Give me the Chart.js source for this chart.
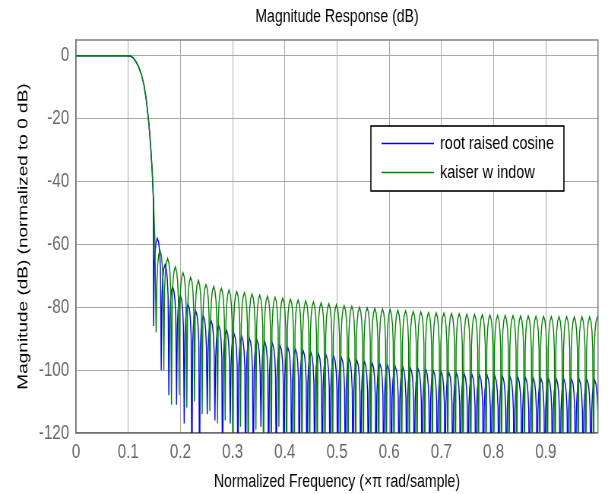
<!DOCTYPE html>
<html>
<head>
<meta charset="utf-8">
<script src="https://cdn.jsdelivr.net/npm/chart.js@4.4.1/dist/chart.umd.min.js"></script>
<style>
  html, body { margin: 0; padding: 0; background: #fff; overflow: hidden; }
  #wrap { width: 608px; height: 494px; overflow: hidden; }
  canvas { transform: scaleX(0.76); transform-origin: 0 0; }
</style>
</head>
<body>
<div id="wrap"><canvas id="c" width="800" height="494"></canvas></div>
<script>
// ---------------- data ----------------
const xTicks = [0, 0.1, 0.2, 0.3, 0.4, 0.5, 0.6, 0.7, 0.8, 0.9];
const yTicks = [-120, -100, -80, -60, -40, -20, 0];
const seriesNames = ['root raised cosine', 'kaiser w indow'];

// passband + transition band
const mainFreq   = [0, 0.05, 0.1, 0.105, 0.11, 0.115, 0.12, 0.125, 0.13, 0.135, 0.14, 0.143, 0.146, 0.148];
const rrcMain    = [0, 0, 0, -0.2, -0.8, -2.0, -3.6, -6.0, -9.2, -14.5, -22.5, -29, -37, -45];
const kaiserMain = [0, 0, 0, -0.15, -0.7, -1.9, -3.5, -5.8, -9.0, -14.2, -22.0, -28.5, -36.5, -44.5];
const kaiserTailFreq = [0.1495, 0.151];
const kaiserTail     = [-51, -58];

// stopband sidelobes: first null frequency, lobe width, peak level of each lobe, depth of each null
const lobeWidth = 0.0147;
const rrcFirstNull = 0.1485;
const kaiserFirstNull = 0.1535;

const rrcPeaks = [
  -58, -66.5, -73.5, -76.3, -79, -81.2, -82.8, -84.2, -85.8, -87.2,
  -88.5, -89.3, -89.9, -90.5, -91.1, -91.6, -92.2, -92.8, -93.3, -93.8,
  -94.3, -94.8, -95.3, -95.7, -96.1, -96.5, -96.9, -97.3, -97.7, -98.0,
  -98.4, -98.8, -99.1, -99.4, -99.7, -100.0, -100.3, -100.5, -100.8, -101.0,
  -101.2, -101.4, -101.6, -101.8, -102.0, -102.1, -102.3, -102.4, -102.5, -102.6,
  -102.7, -102.8, -102.9, -103.0, -103.0, -103.1, -103.1, -103.2
];
const rrcNulls = [
  -86, -100, -108, -111, -117, -140, -140, -114, -116, -140,
  -117, -140, -140, -140, -118, -140, -140, -140, -140, -140,
  -140, -140, -140, -140, -140, -140, -140, -140, -140, -140,
  -140, -140, -140, -140, -140, -140, -140, -140, -140, -140,
  -140, -140, -140, -140, -140, -140, -140, -140, -140, -140,
  -140, -140, -140, -140, -140, -140, -140, -140, -140
];
const kaiserPeaks = [
  -62, -64.5, -67.2, -69, -70.5, -71.5, -72.8, -73.4, -74, -74.5,
  -75, -75.4, -75.8, -76.2, -76.5, -76.8, -77.1, -77.4, -77.7, -78.0,
  -78.3, -78.6, -78.9, -79.2, -79.5, -79.7, -80.0, -80.2, -80.4, -80.6,
  -80.8, -81.0, -81.2, -81.4, -81.5, -81.7, -81.8, -81.9, -82.0, -82.1,
  -82.2, -82.3, -82.4, -82.5, -82.6, -82.6, -82.7, -82.8, -82.8, -82.9,
  -82.9, -83.0, -83.0, -83.0, -83.1, -83.1, -83.1, -83.1
];
const kaiserNulls = [
  -88, -100, -111, -108, -112, -110, -114, -113, -117, -116,
  -140, -118, -140, -119, -140, -140, -118, -140, -140, -140,
  -140, -140, -140, -140, -140, -140, -140, -140, -140, -140,
  -140, -140, -140, -140, -140, -140, -140, -140, -140, -140,
  -140, -140, -140, -140, -140, -140, -140, -140, -140, -140,
  -140, -140, -140, -140, -140, -140, -140, -140, -140
];

// ---------------- drawing ----------------
// shape of one sidelobe (fraction of lobe width, dB below the lobe peak)
const LOBE_SHAPE = [[0.1, -10], [0.2, -4.5], [0.33, -1.4], [0.5, 0], [0.67, -1.4], [0.8, -4.5], [0.9, -10]];

function buildSeries(mainX, mainY, tailX, tailY, firstNull, peaks, nulls) {
  const pts = [];
  mainX.forEach((x, i) => pts.push({ x: x, y: mainY[i] }));
  tailX.forEach((x, i) => pts.push({ x: x, y: tailY[i] }));
  peaks.forEach((p, k) => {
    const x0 = firstNull + k * lobeWidth;
    pts.push({ x: x0, y: nulls[k] });
    LOBE_SHAPE.forEach(([f, d]) => pts.push({ x: x0 + f * lobeWidth, y: p + d }));
  });
  pts.push({ x: firstNull + peaks.length * lobeWidth, y: nulls[peaks.length] });
  return pts;
}

const rrcData = buildSeries(mainFreq, rrcMain, [], [], rrcFirstNull, rrcPeaks, rrcNulls);
const kaiserData = buildSeries(mainFreq, kaiserMain, kaiserTailFreq, kaiserTail, kaiserFirstNull, kaiserPeaks, kaiserNulls);

const FONT = "'Liberation Sans', Arial, Helvetica, sans-serif";
const BLUE = '#0000ff', GREEN = '#008000';

const decor = {
  id: 'decor',
  afterDraw(chart) {
    const ctx = chart.ctx, a = chart.chartArea;
    ctx.save();
    // top and right frame
    ctx.strokeStyle = '#808080';
    ctx.lineWidth = 1.5;
    ctx.beginPath();
    ctx.moveTo(a.left, a.top); ctx.lineTo(a.right, a.top); ctx.lineTo(a.right, a.bottom);
    ctx.stroke();

    // title
    ctx.fillStyle = '#000';
    ctx.font = '18.5px ' + FONT;
    ctx.textAlign = 'center';
    ctx.textBaseline = 'alphabetic';
    ctx.fillText('Magnitude Response (dB)', (a.left + a.right) / 2, 22);
    // x axis title
    ctx.fillText('Normalized Frequency (\u00d7\u03c0 rad/sample)', (a.left + a.right) / 2, 487);
    // y axis title
    ctx.save();
    ctx.translate(36, (a.top + a.bottom) / 2);
    ctx.rotate(-Math.PI / 2);
    ctx.font = '19px ' + FONT;
    ctx.fillText('Magnitude (dB) (normalized to 0 dB)', 0, 0);
    ctx.restore();

    // legend
    const lx = 488, ly = 126, lw = 254, lh = 65;
    ctx.fillStyle = '#fff';
    ctx.fillRect(lx, ly, lw, lh);
    ctx.strokeStyle = '#000';
    ctx.lineWidth = 1.6;
    ctx.strokeRect(lx, ly, lw, lh);
    const rows = [[BLUE, 143.5], [GREEN, 172.5]];
    ctx.font = '19px ' + FONT;
    rows.forEach(([col, yy], i) => {
      ctx.strokeStyle = col;
      ctx.lineWidth = 1.3;
      ctx.beginPath(); ctx.moveTo(502, yy); ctx.lineTo(571, yy); ctx.stroke();
      ctx.fillStyle = '#000';
      ctx.textAlign = 'left';
      ctx.textBaseline = 'middle';
      ctx.fillText(seriesNames[i], 579, yy);
    });
    ctx.restore();
  }
};

new Chart(document.getElementById('c'), {
  type: 'line',
  data: {
    datasets: [
      { label: seriesNames[0], data: rrcData, borderColor: BLUE, borderWidth: 1.4, pointRadius: 0, tension: 0, order: 2 },
      { label: seriesNames[1], data: kaiserData, borderColor: GREEN, borderWidth: 1.4, pointRadius: 0, tension: 0, order: 1 }
    ]
  },
  options: {
    responsive: false,
    devicePixelRatio: 1,
    animation: false,
    parsing: true,
    layout: { padding: { left: 0, right: 13.2, top: 40, bottom: 0 } },
    plugins: { legend: { display: false }, title: { display: false }, tooltip: { enabled: false } },
    scales: {
      x: {
        type: 'linear', min: 0, max: 1,
        afterFit(s) { s.height = 61; },
        afterBuildTicks(s) { s.ticks = xTicks.concat([1]).map(v => ({ value: v })); },
        ticks: {
          autoSkip: false, maxRotation: 0, padding: 7, color: '#666',
          font: { family: FONT, size: 20 },
          callback: v => (v > 0.95 ? '' : String(Math.round(v * 10) / 10))
        },
        grid: { color: '#a8a8a8', lineWidth: 1, drawTicks: false },
        border: { display: true, color: '#707070', width: 1.5 }
      },
      y: {
        type: 'linear', min: -120, max: 5,
        afterFit(s) { s.width = 100; },
        afterBuildTicks(s) { s.ticks = yTicks.map(v => ({ value: v })); },
        ticks: {
          autoSkip: false, padding: 9, color: '#666',
          font: { family: FONT, size: 20 },
          callback: v => String(v)
        },
        grid: { color: '#a8a8a8', lineWidth: 1, drawTicks: false },
        border: { display: true, color: '#707070', width: 1.5 }
      }
    }
  },
  plugins: [decor]
});
</script>
</body>
</html>
